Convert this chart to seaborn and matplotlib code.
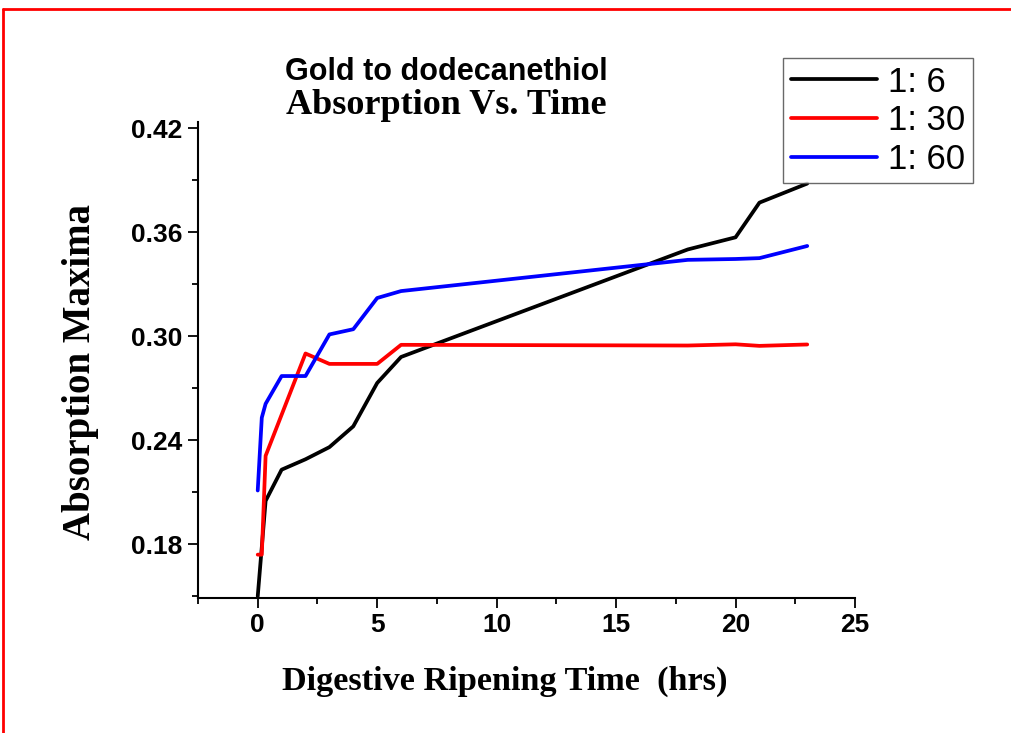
import matplotlib
matplotlib.use("Agg")
import matplotlib.pyplot as plt
from matplotlib.lines import Line2D
from matplotlib.ticker import MultipleLocator
import numpy as np
import pandas as pd
import seaborn as sns

# ---- data ----
time_1_6 = [0, 0.33, 1, 2, 3, 4, 5, 6, 18, 20, 21, 23]
abs_1_6 = [0.150, 0.205, 0.223, 0.229, 0.236, 0.248, 0.273, 0.288, 0.350, 0.357, 0.377, 0.388]

time_1_30 = [0, 0.17, 0.33, 2, 3, 4, 5, 6, 18, 20, 21, 23]
abs_1_30 = [0.174, 0.174, 0.231, 0.290, 0.284, 0.284, 0.284, 0.295, 0.2946, 0.2953, 0.2944, 0.2952]

time_1_60 = [0, 0.17, 0.33, 1, 2, 3, 4, 5, 6, 18, 20, 21, 23]
abs_1_60 = [0.211, 0.253, 0.261, 0.277, 0.277, 0.301, 0.304, 0.322, 0.326, 0.344, 0.3445, 0.345, 0.352]

series_labels = ["1: 6", "1: 30", "1: 60"]
series_colors = ["#000000", "#ff0000", "#0000ff"]

title_line1 = "Gold to dodecanethiol"
title_line2 = "Absorption Vs. Time"
x_label = "Digestive Ripening Time  (hrs)"
y_label = "Absorption Maxima"
y_ticks = [0.18, 0.24, 0.30, 0.36, 0.42]
x_ticks = [0, 5, 10, 15, 20, 25]

df = pd.concat([
    pd.DataFrame({"time": time_1_6, "absorption": abs_1_6, "ratio": series_labels[0]}),
    pd.DataFrame({"time": time_1_30, "absorption": abs_1_30, "ratio": series_labels[1]}),
    pd.DataFrame({"time": time_1_60, "absorption": abs_1_60, "ratio": series_labels[2]}),
], ignore_index=True)

sns.set_theme(style="ticks")
plt.rcParams["font.family"] = ["Liberation Sans", "DejaVu Sans"]
plt.rcParams["text.color"] = "black"
plt.rcParams["xtick.color"] = "black"
plt.rcParams["ytick.color"] = "black"

SANS = ["Liberation Sans", "DejaVu Sans"]
SERIF = ["Liberation Serif", "DejaVu Serif"]

fig = plt.figure(figsize=(10.11, 7.33), dpi=100)
fig.patch.set_facecolor("white")
ax = fig.add_axes([198 / 1011, 1 - 598 / 733, (855 - 198) / 1011, (598 - 122) / 733])

sns.lineplot(data=df, x="time", y="absorption", hue="ratio",
             palette=dict(zip(series_labels, series_colors)),
             sort=False, estimator=None, linewidth=2.7, legend=False, ax=ax)

ax.set_xlim(-2.5, 25)
ax.set_ylim(0.149, 0.4235)
ax.set_xticks(x_ticks)
ax.set_yticks(y_ticks)
ax.set_yticklabels([f"{v:.2f}" for v in y_ticks])
ax.xaxis.set_minor_locator(MultipleLocator(2.5))
ax.yaxis.set_minor_locator(MultipleLocator(0.03))
for s in ["top", "right"]:
    ax.spines[s].set_visible(False)
for s in ["left", "bottom"]:
    ax.spines[s].set_linewidth(1.5)
    ax.spines[s].set_color("black")
ax.tick_params(which="major", direction="out", length=7, width=1.3, colors="black", pad=4)
ax.tick_params(which="minor", direction="out", length=4.5, width=1.3, colors="black")
for lbl in ax.get_xticklabels() + ax.get_yticklabels():
    lbl.set_fontsize(19)
    lbl.set_fontweight("bold")
    lbl.set_family(SANS)
    lbl.set_color("black")

ax.set_xlabel("")
ax.set_ylabel("")
fig.text(505 / 1011, 1 - 681 / 733, x_label, ha="center", va="center", color="black",
         fontsize=24.7, fontweight="bold", family=SERIF)
fig.text(81 / 1011, 1 - 372 / 733, y_label, ha="center", va="center", rotation=90,
         color="black", fontsize=28, fontweight="bold", family=SERIF)

fig.text(446 / 1011, 1 - 72 / 733, title_line1, ha="center", va="center", color="black",
         fontsize=22, fontweight="bold", family=SANS)
fig.text(446 / 1011, 1 - 105 / 733, title_line2, ha="center", va="center", color="black",
         fontsize=26, fontweight="bold", family=SERIF)

handles = [Line2D([0], [0], color=c, linewidth=2.7) for c in series_colors]
leg = fig.legend(handles, series_labels, loc="upper left",
                 bbox_to_anchor=(783 / 1011, 1 - 58 / 733), frameon=True, fancybox=False,
                 prop={"family": SANS, "size": 25},
                 handlelength=2.5, handletextpad=0.3, labelspacing=0.16,
                 borderpad=0.22, borderaxespad=0)
for t in leg.get_texts():
    t.set_color("black")
leg.get_frame().set_edgecolor("#444444")
leg.get_frame().set_linewidth(1.0)

# red frame around the figure
frame_top = 1 - 9 / 733
frame_left = 3 / 1011
fig.add_artist(Line2D([frame_left, 1.0], [frame_top, frame_top], transform=fig.transFigure,
                      color="#ff0000", linewidth=2.0))
fig.add_artist(Line2D([frame_left, frame_left], [0.0, frame_top], transform=fig.transFigure,
                      color="#ff0000", linewidth=2.0))

fig.savefig("out.png", dpi=100, facecolor="white")
